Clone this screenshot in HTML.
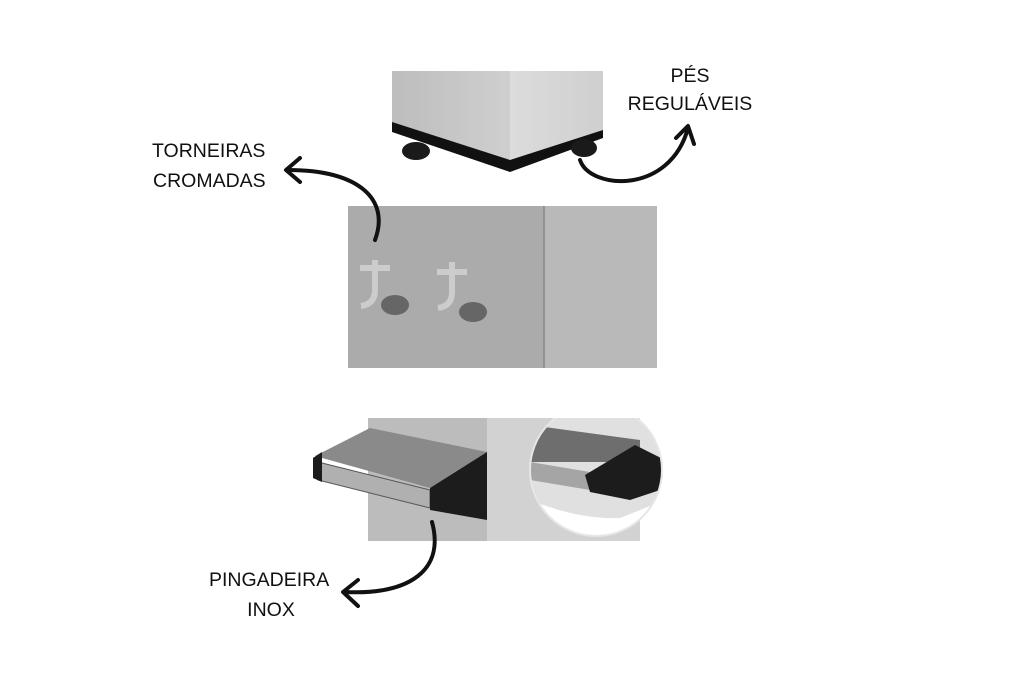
<!DOCTYPE html>
<html><head><meta charset="utf-8"><style>
html,body{margin:0;padding:0;background:#fff;}
svg{display:block}
text{font-family:"Liberation Sans",sans-serif;font-size:19.5px;fill:#111;}
</style></head><body>
<svg width="1024" height="680" viewBox="0 0 1024 680">
<defs>
<linearGradient id="g1" x1="0" x2="1"><stop offset="0" stop-color="#bdbdbd"/><stop offset="1" stop-color="#cfcfcf"/></linearGradient>
<linearGradient id="g2" x1="0" x2="1"><stop offset="0" stop-color="#dcdcdc"/><stop offset="1" stop-color="#cfcfcf"/></linearGradient>
<clipPath id="cc"><rect x="470" y="418" width="200" height="130"/></clipPath>
<clipPath id="cc2"><circle cx="596" cy="470" r="66"/></clipPath>
</defs>
<polygon points="392,71 510,71 510,165 392,125" fill="url(#g1)"/>
<polygon points="510,71 603,71 603,133 510,165" fill="url(#g2)"/>
<polygon points="392,122 510,160 603,130 603,138 510,172 392,132" fill="#111"/>
<ellipse cx="416" cy="151" rx="14" ry="9" fill="#1a1a1a"/>
<ellipse cx="584" cy="148" rx="13" ry="9" fill="#1a1a1a"/>
<rect x="348" y="206" width="196" height="162" fill="#ababab"/>
<rect x="544" y="206" width="113" height="162" fill="#b9b9b9"/>
<line x1="544" y1="206" x2="544" y2="368" stroke="#888" stroke-width="1.5"/>
<g>
<path d="M360 268 h30 M375 260 v30 q0 14 -14 16" fill="none" stroke="#ccc" stroke-width="6"/>
<ellipse cx="395" cy="305" rx="14" ry="10" fill="#666"/>
<path d="M437 272 h30 M452 262 v30 q0 14 -14 16" fill="none" stroke="#ccc" stroke-width="6"/>
<ellipse cx="473" cy="312" rx="14" ry="10" fill="#666"/>
</g>
<rect x="368" y="418" width="119" height="123" fill="#bcbcbc"/>
<rect x="487" y="418" width="153" height="123" fill="#d2d2d2"/>
<g clip-path="url(#cc)">
<g clip-path="url(#cc2)">
<rect x="520" y="400" width="160" height="150" fill="#e0e0e0"/>
<polygon points="530,425 640,440 640,462 530,462" fill="#6e6e6e"/>
<polygon points="530,462 590,472 590,490 530,480" fill="#a5a5a5"/>
<polygon points="585,475 635,445 665,460 660,490 630,500 590,492" fill="#1c1c1c"/>
<path d="M530 500 q50 20 90 18 l50 -20 v60 h-140z" fill="#fff"/>
</g>
<circle cx="596" cy="470" r="66" fill="none" stroke="#e6e6e6" stroke-width="2"/>
</g>
<polygon points="315,456 370,428 487,452 430,488" fill="#8a8a8a"/>
<polygon points="318,462 430,490 430,508 318,480" fill="#b0b0b0" stroke="#555"/>
<polygon points="430,488 487,452 487,520 430,510" fill="#1c1c1c"/>
<polygon points="313,458 322,452 322,482 313,478" fill="#1c1c1c"/>
<g fill="none" stroke="#111" stroke-width="4" stroke-linecap="round" stroke-linejoin="round">
<path d="M375 240 C390 200 360 170 288 170"/>
<path d="M300 158 L286 170 L300 182"/>
<path d="M580 160 C590 190 670 195 688 128"/>
<path d="M676 138 L688 126 L694 144"/>
<path d="M432 522 C445 570 410 595 345 592"/>
<path d="M358 580 L343 592 L358 606"/>
</g>
<text x="152" y="157">TORNEIRAS</text>
<text x="153" y="187">CROMADAS</text>
<text x="690" y="82" text-anchor="middle">PÉS</text>
<text x="690" y="110" text-anchor="middle">REGULÁVEIS</text>
<text x="209" y="586">PINGADEIRA</text>
<text x="271" y="616" text-anchor="middle">INOX</text>
</svg>
</body></html>
